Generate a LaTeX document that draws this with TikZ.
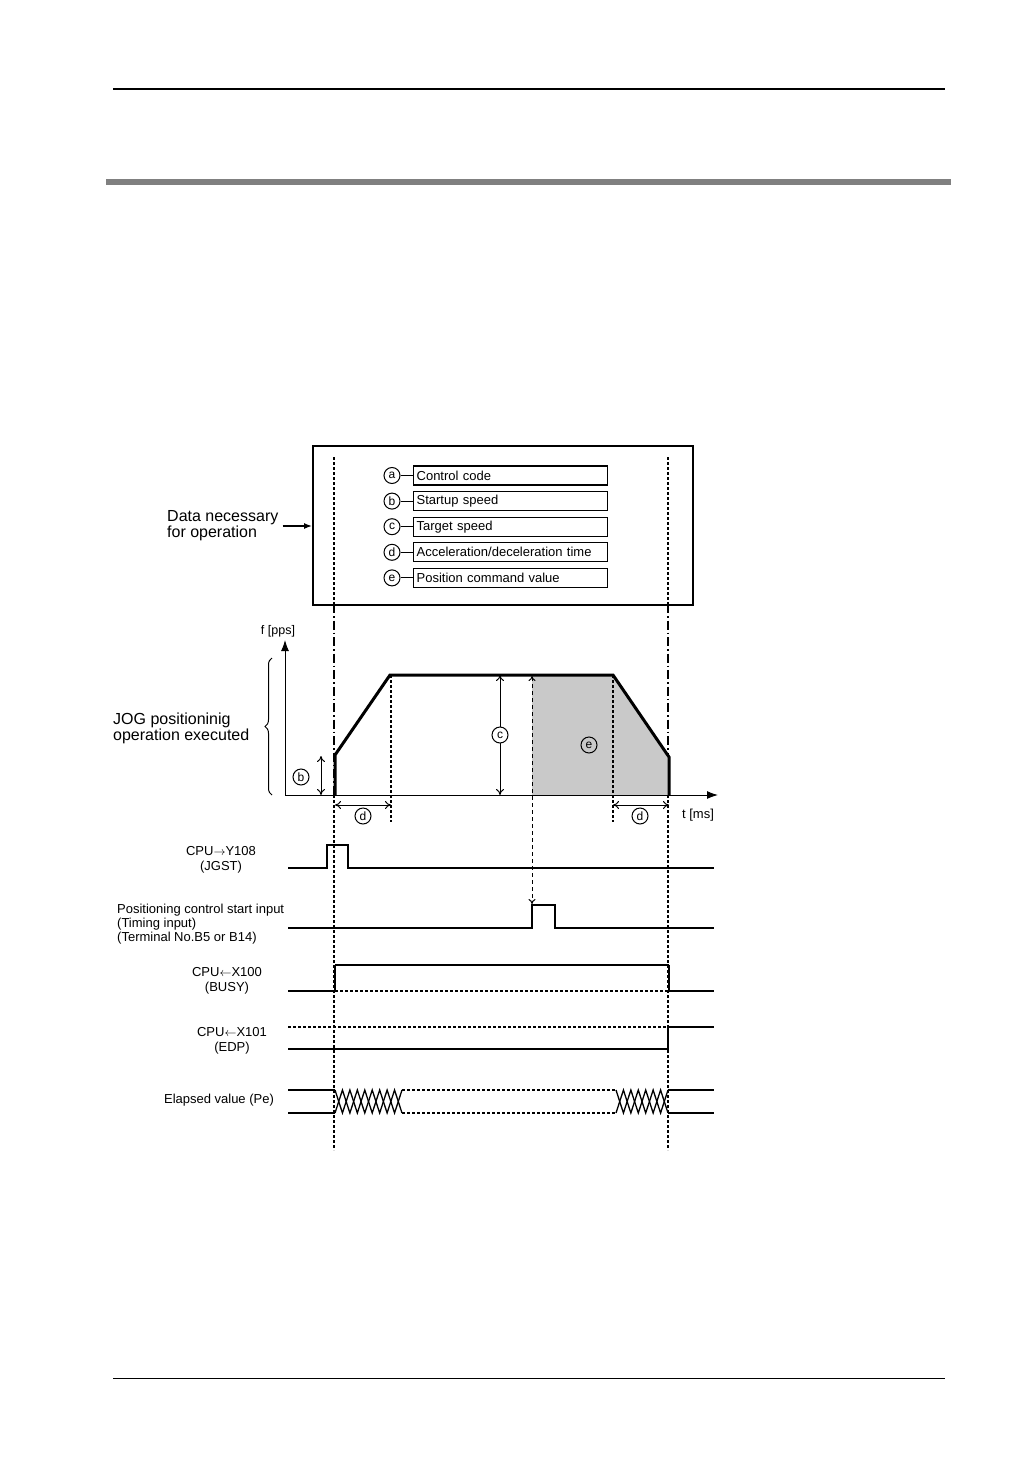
\documentclass[tikz,border=0pt]{standalone}
\usepackage{fontspec}
\setmainfont{Liberation Sans}
\usetikzlibrary{arrows.meta,calc,decorations.pathreplacing}

\begin{document}
\begin{tikzpicture}[x=1pt,y=-1pt,
    lbl/.style={font=\fontsize{13}{14.5}\selectfont,align=center,inner sep=0pt},
    big/.style={font=\fontsize{16}{14}\selectfont,align=left,inner sep=0pt,anchor=west},
    item/.style={draw,line width=1.3pt,minimum height=19pt,inner xsep=3pt,inner ysep=0pt,
      text width=188pt,align=left,anchor=west,font=\fontsize{13}{14}\selectfont},
    ltr/.style={draw,circle,line width=1pt,inner sep=0pt,minimum size=16pt,fill=white,
      font=\fontsize{12}{12}\selectfont},
    sig/.style={line width=2.6pt},
    thinsig/.style={line width=1.3pt},
    guide/.style={line width=1.1pt,dash pattern=on 2.5pt off 2.5pt},
    chain/.style={line width=1.1pt,dash pattern=on 9pt off 3pt on 1.5pt off 3pt},
    dim/.style={line width=1pt,{To[length=6pt,width=8pt]}-{To[length=6pt,width=8pt]}}
  ]
  \useasboundingbox (0,0) rectangle (1032,1458);

  % page rules
  \draw[line width=1.2pt] (113,89) -- (945,89);
  \fill[gray] (106,179) rectangle (951,185);
  \draw[line width=1pt] (113,1378) -- (945,1378);

  % data block
  \node[draw,line width=1.6pt,minimum width=380pt,minimum height=159pt,anchor=north west,
    inner sep=0pt] (data) at (312,445) {};
  \foreach \k/\txt [count=\i from 0] in {a/Control code,b/Startup speed,c/Target speed,
      d/{Acceleration/deceleration time},e/Position command value} {
    \node[ltr] (c\k) at (392,{475.5+25.6*\i}) {\k};
    \node[item] (i\k) at (413,{475.5+25.6*\i}) {\txt};
    \draw[line width=1pt] (c\k) -- (i\k);
  }
  \node[big] (need) at (167,526) {Data necessary\\for operation};
  \draw[line width=1.3pt,-{Latex[length=8pt,width=6pt]}] ($(need.east)+(4,0)$) -- (need.east -| data.west);

  % time guides
  \foreach \gx in {334,668} {
    \draw[guide] (\gx,457) -- (\gx,604);
    \draw[chain] (\gx,604) -- (\gx,795);
    \draw[guide] (\gx,795) -- (\gx,1150);
  }

  % speed profile
  \fill[gray!42] (532,675) -- (613,675) -- (669,757) -- (669,795) -- (532,795) -- cycle;
  \draw[line width=1pt,-{Latex[length=11pt,width=8pt]}] (285,795) -- (285,640);
  \draw[line width=1pt,-{Latex[length=11pt,width=8pt]}] (285,795) -- (718,795);
  \node[font=\fontsize{12.5}{13}\selectfont,inner sep=0pt] (fax) at (278,631) {f [pps]};
  \node[font=\fontsize{13}{13}\selectfont,inner sep=0pt] (tax) at (698,815) {t [ms]};
  \draw[line width=3pt,line join=miter] (335,795) -- (335,755) -- (390,675) -- (613,675)
    -- (669,757) -- (669,795);
  \draw[guide] (391,675) -- (391,822);
  \draw[guide] (613,675) -- (613,822);
  \draw[dim] (321,756) -- (321,795);
  \draw[dim] (500,675) -- (500,795);
  \draw[dim] (335,805) -- (391,805);
  \draw[dim] (613,805) -- (669,805);
  \node[ltr] (lb) at (301,777) {b};
  \node[ltr] (lc) at (500,735) {c};
  \node[ltr,fill=none] (le) at (589,745) {e};
  \node[ltr] (ld1) at (363,816) {d};
  \node[ltr] (ld2) at (640,816) {d};
  \draw[line width=1pt,dash pattern=on 4pt off 3pt,
    {To[length=5pt,width=7pt]}-{To[length=5pt,width=7pt]}] (532,676) -- (532,904);
  \draw[line width=1pt,decorate,decoration={brace,amplitude=7pt}] (272,795) -- (272,658);
  \node[big] (jog) at (113,728) {JOG positioninig\\operation executed};

  % signal labels
  \node[lbl] (jgst) at (221,860) {CPU$\rightarrow$Y108\\(JGST)};
  \node[lbl,align=left,anchor=west,font=\fontsize{13}{14}\selectfont] (tin) at (117,924)
    {Positioning control start input\\(Timing input)\\(Terminal No.B5 or B14)};
  \node[lbl] (busy) at (227,981) {CPU$\leftarrow$X100\\(BUSY)};
  \node[lbl] (edp) at (232,1041) {CPU$\leftarrow$X101\\(EDP)};
  \node[lbl] (pe) at (219,1100) {Elapsed value (Pe)};

  % signals
  \draw[sig] (288,868) -- (327,868) -- (327,845) -- (348,845) -- (348,868) -- (714,868);
  \draw[sig] (288,928) -- (532,928) -- (532,905) -- (555,905) -- (555,928) -- (714,928);
  \draw[sig] (288,991) -- (335,991) -- (335,965);
  \draw[line width=2pt] (335,965) -- (669,965);
  \draw[sig] (669,965) -- (669,991) -- (714,991);
  \draw[guide] (335,991) -- (669,991);
  \draw[thinsig] (288,1049) -- (668,1049) -- (668,1027) -- (714,1027);
  \draw[guide] (288,1027) -- (668,1027);
  \draw[thinsig] (288,1090) -- (335,1090) (288,1113) -- (335,1113);
  \draw[guide] (402,1090) -- (616,1090) (402,1113) -- (616,1113);
  \draw[thinsig] (668,1090) -- (714,1090) (668,1113) -- (714,1113);
  \foreach \xa/\xb/\m in {335/402/9,616/668/7} {
    \draw[thinsig] (\xa,1090) \foreach \k in {1,...,\m} {
      -- ({\xa+\k*(\xb-\xa)/\m},{1101.5-11.5*cos(180*\k)}) };
    \draw[thinsig] (\xa,1113) \foreach \k in {1,...,\m} {
      -- ({\xa+\k*(\xb-\xa)/\m},{1101.5+11.5*cos(180*\k)}) };
  }
\end{tikzpicture}
\end{document}
